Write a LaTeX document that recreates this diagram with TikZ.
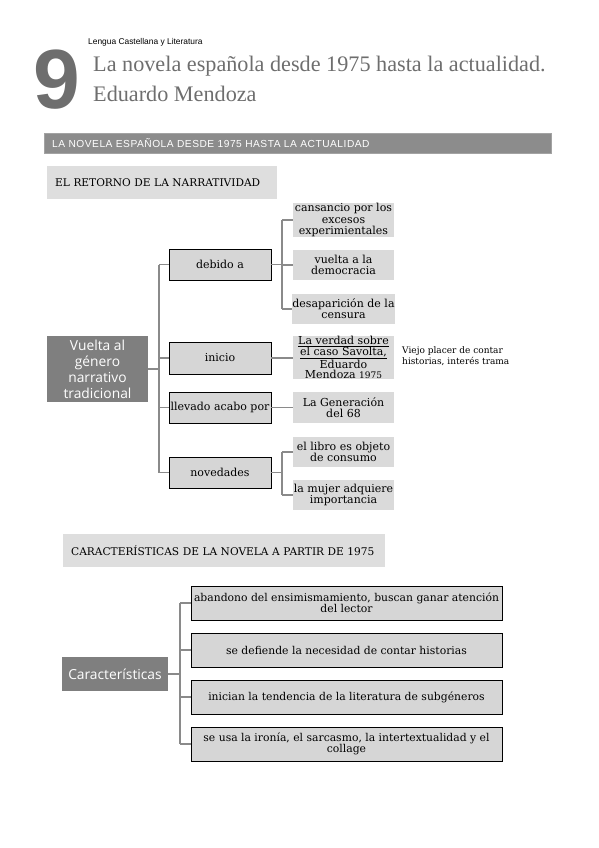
\documentclass[tikz,border=0pt]{standalone}
\usepackage{fontspec}
\setmainfont{DejaVu Serif}
\newfontfamily\titlefont{Liberation Serif}
\newfontfamily\headfont{Liberation Sans}
\newfontfamily\rootfont{Open Sans}

\definecolor{numgray}{HTML}{6E6E6E}
\definecolor{bargray}{HTML}{8C8C8C}
\definecolor{rootgray}{HTML}{7F7F7F}
\definecolor{boxgray}{HTML}{D6D6D6}
\definecolor{leafgray}{HTML}{DADADA}
\definecolor{headgray}{HTML}{DEDEDE}
\definecolor{linegray}{HTML}{8A8A8A}

\begin{document}
\begin{tikzpicture}[%
    x=1pt, y=-1pt,
    rootbox/.style={
      rectangle,
      fill=rootgray,
      text=white,
      align=center,
      inner sep=1,
      font=\rootfont\fontsize{13.8}{16}\selectfont
    },
    midbox/.style={
      rectangle,
      draw=black,
      thick,
      fill=boxgray,
      align=center,
      inner sep=1,
      minimum width=102,
      minimum height=31,
      font=\fontsize{11}{11.5}\selectfont
    },
    leafbox/.style={
      rectangle,
      fill=leafgray,
      align=center,
      inner sep=0,
      minimum width=101,
      minimum height=30,
      font=\fontsize{11}{11.2}\selectfont
    },
    headbox/.style={
      rectangle,
      fill=headgray,
      anchor=north west,
      align=left,
      inner xsep=8,
      font=\fontsize{10.6}{12}\selectfont
    },
    conn/.style={
      draw=linegray,
      line width=1.3
    }
  ]
    \useasboundingbox (0,0) rectangle (599,848);

    % page head
    \node[anchor=west, inner sep=0, font=\headfont\fontsize{8.4}{9}\selectfont] (subject) at (88,42) {Lengua Castellana y Literatura};
    \node[anchor=north west, inner sep=0, text=numgray, font=\headfont\bfseries\fontsize{84}{84}\selectfont] (unit) at (33,50) {9};
    \node[anchor=north west, inner sep=0, align=left, text=numgray,
      font=\titlefont\fontsize{22.2}{29.5}\selectfont] (title) at (93,56)
      {La novela española desde 1975 hasta la actualidad.\\Eduardo Mendoza};

    \node[anchor=north west, fill=bargray, draw=bargray!80, minimum height=20, text width=491,
      inner xsep=8, text=white, font=\headfont\fontsize{10.2}{11}\selectfont\addfontfeature{LetterSpace=5}] (bar) at (44,133)
      {LA NOVELA ESPAÑOLA DESDE 1975 HASTA LA ACTUALIDAD};

    % first map
    \node[headbox, minimum height=33, text width=214] (retorno) at (47,166) {EL RETORNO DE LA NARRATIVIDAD};

    \node[rootbox, minimum width=101, minimum height=66] (vuelta) at (97.5,369)
      {Vuelta al\\género\\narrativo\\tradicional};

    \node[midbox] (debido) at (220,264.5) {debido a};
    \node[midbox, minimum height=32] (inicio) at (220,358) {inicio};
    \node[midbox] (llevado) at (220,407.5) {llevado acabo por};
    \node[midbox] (novedad) at (220,472.5) {novedades};

    \node[leafbox, minimum height=32] (cansan) at (343.5,220) {cansancio por los\\excesos\\experimientales};
    \node[leafbox] (vueltad) at (343.5,265) {vuelta a la\\democracia};
    \node[leafbox] (desapa) at (343.5,309) {desaparición de la\\censura};
    \node[leafbox, minimum height=41, font=\fontsize{11}{10.6}\selectfont] (savolta) at (343.5,357.5)
      {\underline{La verdad sobre}\\\underline{el caso Savolta,}\\Eduardo\\Mendoza \fontsize{9}{10.6}\selectfont 1975};
    \node[leafbox, minimum height=31] (genera) at (343.5,407.5) {La Generación\\del 68};
    \node[leafbox] (libro) at (343.5,452) {el libro es objeto\\de consumo};
    \node[leafbox] (mujer) at (343.5,495) {la mujer adquiere\\importancia};

    \node[anchor=west, align=left, inner sep=0, font=\fontsize{9}{11}\selectfont] (placer) at (402,356)
      {Viejo placer de contar\\historias, interés trama};

    \coordinate (trunk) at (159,0);
    \coordinate (subtrunk) at (282,0);

    \draw[conn] (vuelta.east) -- (trunk |- vuelta.east);
    \draw[conn] (trunk |- debido.west) -- (trunk |- novedad.west);
    \foreach \n in {debido,inicio,llevado,novedad}
      \draw[conn] (trunk |- \n.west) -- (\n.west);

    \draw[conn] (debido.east) -- (subtrunk |- debido.east);
    \draw[conn] (subtrunk |- cansan.west) -- (subtrunk |- desapa.west);
    \foreach \n in {cansan,vueltad,desapa}
      \draw[conn] (subtrunk |- \n.west) -- (\n.west);
    \draw[conn] (inicio.east) -- (savolta.west |- inicio.east);
    \draw[conn] (llevado.east) -- (genera.west);
    \draw[conn] (novedad.east) -- (subtrunk |- novedad.east);
    \draw[conn] (subtrunk |- libro.west) -- (subtrunk |- mujer.west);
    \foreach \n in {libro,mujer}
      \draw[conn] (subtrunk |- \n.west) -- (\n.west);

    % second map
    \node[headbox, minimum height=33, text width=306] (caract) at (63,534) {CARACTERÍSTICAS DE LA NOVELA A PARTIR DE 1975};

    \node[rootbox, minimum width=106, minimum height=34] (rasgos) at (115,674) {Características};

    \node[midbox, minimum width=311, minimum height=34, font=\fontsize{10.8}{11.5}\selectfont] (rasgo1) at (346.5,603)
      {abandono del ensimismamiento, buscan ganar atención\\del lector};
    \node[midbox, minimum width=311, minimum height=34, font=\fontsize{10.8}{11.5}\selectfont] (rasgo2) at (346.5,650)
      {se defiende la necesidad de contar historias};
    \node[midbox, minimum width=311, minimum height=34, font=\fontsize{10.8}{11.5}\selectfont] (rasgo3) at (346.5,697)
      {inician la tendencia de la literatura de subgéneros};
    \node[midbox, minimum width=311, minimum height=34, font=\fontsize{10.8}{11.5}\selectfont] (rasgo4) at (346.5,744)
      {se usa la ironía, el sarcasmo, la intertextualidad y el\\collage};

    \coordinate (trunkb) at (180,0);
    \draw[conn] (rasgos.east) -- (trunkb |- rasgos.east);
    \draw[conn] (trunkb |- rasgo1.west) -- (trunkb |- rasgo4.west);
    \foreach \n in {rasgo1,rasgo2,rasgo3,rasgo4}
      \draw[conn] (trunkb |- \n.west) -- (\n.west);
  \end{tikzpicture}
\end{document}
